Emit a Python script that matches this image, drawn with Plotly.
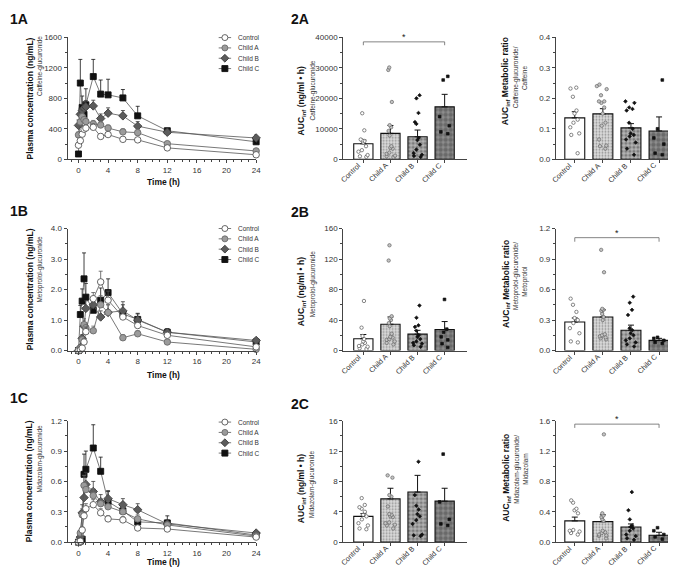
import plotly.graph_objects as go

W, H = 676, 567

groups = ["Control", "Child A", "Child B", "Child C"]
time_h = [0, 0.25, 0.5, 0.75, 1, 2, 3, 4, 6, 8, 12, 24]

# 1A caffeine-glucuronide plasma conc (ng/mL): mean / SEM, rows = groups
caf_mean = [
    [185, 245, 330, 395, 410, 420, 300, 325, 262, 255, 150, 60],
    [320, 490, 560, 520, 495, 465, 450, 410, 360, 350, 205, 110],
    [445, 590, 640, 670, 690, 700, 535, 605, 570, 435, 355, 280],
    [70, 1000, 680, 590, 715, 1085, 855, 845, 805, 570, 375, 230],
]
caf_sem = [
    [25, 30, 35, 40, 40, 45, 30, 35, 30, 30, 20, 10],
    [40, 50, 60, 50, 50, 45, 45, 40, 40, 40, 25, 15],
    [70, 80, 80, 80, 80, 75, 60, 70, 70, 60, 40, 40],
    [20, 310, 150, 120, 210, 225, 185, 205, 110, 125, 30, 40],
]
# 1B metoprolol-glucuronide
met_mean = [
    [0, 0.02, 0.08, 0.28, 0.62, 1.7, 2.25, 1.65, 1.1, 0.82, 0.5, 0.12],
    [0, 0.08, 0.35, 0.85, 0.75, 0.65, 1.5, 1.25, 0.42, 0.55, 0.28, 0.04],
    [0, 0.1, 0.4, 0.8, 1.38, 1.5, 1.1, 1.25, 1.3, 1.0, 0.6, 0.33],
    [0, 1.18, 1.62, 2.35, 1.75, 1.32, 1.65, 1.9, 1.2, 1.02, 0.6, 0.28],
]
met_sem = [
    [0, 0.01, 0.04, 0.1, 0.15, 0.2, 0.35, 0.3, 0.2, 0.12, 0.08, 0.03],
    [0, 0.03, 0.1, 0.2, 0.15, 0.15, 0.3, 0.25, 0.1, 0.1, 0.05, 0.01],
    [0, 0.04, 0.12, 0.2, 0.25, 0.25, 0.2, 0.25, 0.3, 0.2, 0.12, 0.06],
    [0, 0.3, 0.4, 0.85, 0.45, 0.35, 0.4, 0.45, 0.3, 0.2, 0.12, 0.05],
]
# 1C midazolam-glucuronide
mid_mean = [
    [0, 0.01, 0.12, 0.26, 0.33, 0.37, 0.29, 0.23, 0.22, 0.14, 0.13, 0.05],
    [0, 0.09, 0.27, 0.56, 0.52, 0.46, 0.38, 0.35, 0.3, 0.23, 0.17, 0.06],
    [0, 0.05, 0.29, 0.44, 0.57, 0.5, 0.4, 0.43, 0.37, 0.32, 0.18, 0.09],
    [0, 0.01, 0.03, 0.67, 0.72, 0.93, 0.70, 0.40, 0.31, 0.2, 0.19, 0.07],
]
mid_sem = [
    [0, 0.005, 0.03, 0.05, 0.05, 0.05, 0.04, 0.03, 0.03, 0.02, 0.02, 0.01],
    [0, 0.02, 0.06, 0.1, 0.08, 0.07, 0.05, 0.05, 0.04, 0.04, 0.03, 0.01],
    [0, 0.02, 0.08, 0.12, 0.12, 0.1, 0.07, 0.08, 0.06, 0.06, 0.04, 0.02],
    [0, 0.005, 0.01, 0.2, 0.18, 0.23, 0.14, 0.1, 0.08, 0.05, 0.07, 0.02],
]

# 2A-2C AUCinf of glucuronides: bar mean, SEM and individual values
caf_auc_mean = [5100, 8500, 7400, 17200]
caf_auc_sem = [1200, 2600, 2200, 4100]
caf_auc_pts = [
    [15100, 9500, 6500, 6200, 6000, 5500, 4300, 3000, 2500, 1400, 1000, 800],
    [30100, 29300, 18800, 11200, 10500, 9300, 7800, 4300, 3800, 3500, 2200, 1800, 1200, 1000, 700],
    [21000, 20000, 15200, 12200, 11600, 7000, 6300, 4800, 3200, 2000, 1500, 1100, 800],
    [27200, 26000, 14000, 11000, 9000, 8400],
]
met_auc_mean = [15.5, 34.5, 21.5, 27.5]
met_auc_sem = [5.5, 9.5, 5, 10.5]
met_auc_pts = [
    [65, 30, 19, 15, 12, 10, 8, 6, 5, 3, 2],
    [138, 118, 45, 42, 40, 36, 32, 22, 18, 17, 15, 14, 12, 10, 8],
    [59, 43, 33, 31, 26, 20, 18, 15, 12, 10, 9, 7, 5],
    [67, 28, 24, 18, 14, 9, 4],
]
mid_auc_mean = [3.4, 5.7, 6.6, 5.4]
mid_auc_sem = [0.35, 1.4, 2.2, 1.7]
mid_auc_pts = [
    [5.8, 4.9, 4.6, 4.4, 4.0, 3.6, 3.4, 3.0, 2.5, 2.2, 1.8, 1.7],
    [8.8, 8.5, 6.2, 6.0, 4.7, 3.7, 3.6, 3.4, 3.3, 2.6, 2.5, 2.3, 2.2, 1.8],
    [10.6, 6.2, 4.8, 4.3, 3.7, 3.4, 2.9, 2.4, 1.0, 0.9, 0.8],
    [11.6, 5.3, 3.0, 2.4, 2.2],
]

# 3A-3C AUCinf metabolic ratios
caf_ratio_mean = [0.136, 0.149, 0.103, 0.093]
caf_ratio_sem = [0.02, 0.017, 0.014, 0.046]
caf_ratio_pts = [
    [0.235, 0.232, 0.205, 0.16, 0.15, 0.13, 0.12, 0.105, 0.085, 0.08, 0.02],
    [0.245, 0.24, 0.23, 0.21, 0.19, 0.19, 0.185, 0.17, 0.15, 0.12, 0.11, 0.065, 0.045, 0.043, 0.035],
    [0.19, 0.185, 0.17, 0.165, 0.16, 0.12, 0.1, 0.085, 0.08, 0.075, 0.065, 0.055, 0.035, 0.015],
    [0.26, 0.1, 0.07, 0.05, 0.02, 0.015],
]
met_ratio_mean = [0.28, 0.33, 0.2, 0.1]
met_ratio_sem = [0.04, 0.07, 0.05, 0.02]
met_ratio_pts = [
    [0.51, 0.45, 0.38, 0.32, 0.3, 0.27, 0.22, 0.17, 0.09, 0.08],
    [0.99, 0.77, 0.41, 0.40, 0.39, 0.36, 0.33, 0.30, 0.16, 0.15, 0.14, 0.13, 0.12, 0.11],
    [0.53, 0.47, 0.40, 0.35, 0.22, 0.2, 0.17, 0.15, 0.12, 0.1, 0.08, 0.06, 0.04],
    [0.13, 0.12, 0.1, 0.08, 0.07],
]
mid_ratio_mean = [0.28, 0.27, 0.2, 0.09]
mid_ratio_sem = [0.05, 0.09, 0.04, 0.04]
mid_ratio_pts = [
    [0.55, 0.52, 0.44, 0.42, 0.38, 0.16, 0.15, 0.14, 0.12, 0.1],
    [1.42, 0.38, 0.35, 0.33, 0.3, 0.28, 0.15, 0.13, 0.12, 0.1, 0.09, 0.08, 0.05],
    [0.66, 0.42, 0.3, 0.22, 0.2, 0.18, 0.15, 0.1, 0.08, 0.05, 0.03],
    [0.19, 0.15, 0.1, 0.07, 0.04],
]

# significance brackets (Control vs Child C): bracket height, leg drop
sig_caf_auc = (38500, 1100)
sig_met_ratio = (1.11, 0.04)
sig_mid_ratio = (1.555, 0.05)

drugs = ["Caffeine", "Metoprolol", "Midazolam"]


def px(x):
    return x / W


def py(y):
    return 1 - y / H


def ax_name(k, a):
    return f"{a}axis" if k == 1 else f"{a}axis{k}"


def ax_ref(k, a):
    return a if k == 1 else f"{a}{k}"


FONT = "Liberation Sans, Arial, sans-serif"
AXC = "#444444"


def base_axis(**kw):
    d = dict(showline=True, linecolor=AXC, linewidth=1, ticks="outside",
             ticklen=3, tickwidth=1, tickcolor=AXC, showgrid=False,
             zeroline=False, tickfont=dict(size=8, color="#333", family=FONT),
             fixedrange=True)
    d.update(kw)
    return d


fig = go.Figure()
layout = {}
ann = []

row_top = [25.7, 220, 415.3]
row_bot = [149.7, 344, 538.7]
line_x = (60, 250)
t0_px = 71
auc_x = (337.7, 462)
ratio_x = (552, 675)

# line plot styles
sym = ["circle", "circle", "diamond", "square"]
fill = ["white", "#9b9b9b", "#5c5c5c", "#111111"]
edge = ["#555555", "#6a6a6a", "#3c3c3c", "#111111"]

# bar styles
bar_bg = ["white", "#dcdcdc", "#b4b4b4", "#8e8e8e"]
bar_fg = ["white", "#8c8c8c", "#222222", "#111111"]
bar_shape = ["", ".", ".", "."]
bar_psize = [4, 3, 4, 5]
bar_solid = [0.3, 0.3, 0.5, 0.6]
pt_fill = ["white", "#c4c4c4", "#111111", "#111111"]
pt_edge = ["#555555", "#666666", "#111111", "#111111"]
pt_sym = ["circle", "circle", "diamond", "square"]
pt_size = [3.4, 3.4, 2.8, 2.7]

line_sets = [(caf_mean, caf_sem, 1600, 400, "d"),
             (met_mean, met_sem, 4.0, 1.0, ".1f"),
             (mid_mean, mid_sem, 1.2, 0.3, ".1f")]
auc_sets = [(caf_auc_mean, caf_auc_sem, caf_auc_pts, 40000, 10000, "d"),
            (met_auc_mean, met_auc_sem, met_auc_pts, 160, 40, "d"),
            (mid_auc_mean, mid_auc_sem, mid_auc_pts, 16, 4, "d")]
ratio_sets = [(caf_ratio_mean, caf_ratio_sem, caf_ratio_pts, 0.4, 0.1, ".1f"),
              (met_ratio_mean, met_ratio_sem, met_ratio_pts, 1.2, 0.3, ".1f"),
              (mid_ratio_mean, mid_ratio_sem, mid_ratio_pts, 1.6, 0.4, ".1f")]
sigs = [(sig_caf_auc, None), (None, sig_met_ratio), (None, sig_mid_ratio)]

# text layout (pixel positions measured on the reference)
line_title_y = [(88, 55), (282, 261), (477, 454)]
auc_title_y = [(90, 80), (284, 276), (484, 480)]
ratio_title_y = [(70, 66, 67), (276, 268, 274), (473, 465, 465)]
label_y = [(7, 7), (202, 203), (392, 398)]
time_label_y = [173, 369, 559]
legend_top = [26, 220, 416.7]
legend_step = 10.5

bold_size = 8.5
sub_size = 6.5


def txt(x, y, text, size, angle=0, xanchor="center", color="#111"):
    ann.append(dict(x=px(x), y=py(y), xref="paper", yref="paper", text=text,
                    showarrow=False, textangle=angle, xanchor=xanchor,
                    yanchor="middle", font=dict(size=size, color=color, family=FONT)))


for r in range(3):
    ydom = [py(row_bot[r]), py(row_top[r])]
    drug = drugs[r]
    gluc = f"{drug}-glucuronide"

    # ---- time course panel
    k = 3 * r + 1
    means, sems, ymax, dt, fmt = line_sets[r]
    per_h = (line_x[1] - t0_px) / 24
    xr = [-(t0_px - line_x[0]) / per_h, 24]
    layout[ax_name(k, "x")] = base_axis(domain=[px(line_x[0]), px(line_x[1])], range=xr,
                                        anchor=ax_ref(k, "y"), tickvals=[0, 4, 8, 12, 16, 20, 24],
                                        minor=dict(ticks="outside", ticklen=2, dtick=1, tick0=0, tickcolor=AXC))
    layout[ax_name(k, "y")] = base_axis(domain=ydom, range=[0, ymax], anchor=ax_ref(k, "x"),
                                        dtick=dt, tickformat=fmt,
                                        minor=dict(ticks="outside", ticklen=2, dtick=dt / 2, tickcolor=AXC))
    for g in [3, 2, 1, 0]:
        fig.add_trace(go.Scatter(
            x=time_h, y=means[g], mode="lines+markers", name=groups[g],
            xaxis=ax_ref(k, "x"), yaxis=ax_ref(k, "y"), cliponaxis=False, showlegend=False,
            line=dict(color="#555555", width=0.8),
            marker=dict(symbol=sym[g], size=6.5 if g != 3 else 6, color=fill[g],
                        line=dict(color=edge[g], width=0.9)),
            error_y=dict(type="data", array=sems[g], arrayminus=[0] * len(time_h),
                         symmetric=False, color=edge[g], thickness=0.8, width=2),
        ))
    bt, st = line_title_y[r]
    txt(22, bt, "<b>Plasma concentration (ng/mL)</b>", bold_size, -90)
    txt(32, st, gluc, sub_size, -90, color="#333")
    txt(157, time_label_y[r], "<b>Time (h)</b>", bold_size)
    txt(0, label_y[r][0], f"<b>1{'ABC'[r]}</b>", 14, xanchor="left")

    # legend drawn on a small helper axis
    kl = 10 + r
    ltop = legend_top[r]
    layout[ax_name(kl, "x")] = dict(domain=[px(212), px(225)], range=[0, 1], visible=False,
                                    anchor=ax_ref(kl, "y"), fixedrange=True)
    layout[ax_name(kl, "y")] = dict(domain=[py(ltop + 3.5 * legend_step), py(ltop - 0.5 * legend_step)],
                                    range=[3.5, -0.5], visible=False, anchor=ax_ref(kl, "x"),
                                    fixedrange=True)
    for g in range(4):
        fig.add_trace(go.Scatter(
            x=[0, 1], y=[g, g], mode="lines", showlegend=False,
            xaxis=ax_ref(kl, "x"), yaxis=ax_ref(kl, "y"), cliponaxis=False, hoverinfo="skip",
            line=dict(color="#555555", width=0.8),
        ))
        fig.add_trace(go.Scatter(
            x=[0.5], y=[g], mode="markers", showlegend=False,
            xaxis=ax_ref(kl, "x"), yaxis=ax_ref(kl, "y"), cliponaxis=False, hoverinfo="skip",
            marker=dict(symbol=sym[g], size=6, color=fill[g],
                        line=dict(color=edge[g], width=0.9)),
        ))
        txt(230, ltop + g * legend_step, groups[g], sub_size, xanchor="left", color="#333")

    # ---- AUC and ratio bar panels
    for j, (xd, sets) in enumerate([(auc_x, auc_sets), (ratio_x, ratio_sets)]):
        k = 3 * r + 2 + j
        means, sems, pts, ymax, dt, fmt = sets[r]
        spacing = 27.3 if j == 0 else 28.3
        c0 = 358 if j == 0 else 571
        xr = [(xd[0] - c0) / spacing, (xd[1] - c0) / spacing]
        layout[ax_name(k, "x")] = base_axis(domain=[px(xd[0]), px(xd[1])], range=xr,
                                            anchor=ax_ref(k, "y"), tickvals=[0, 1, 2, 3],
                                            showticklabels=False)
        layout[ax_name(k, "y")] = base_axis(domain=ydom, range=[0, ymax], anchor=ax_ref(k, "x"),
                                            dtick=dt, tickformat=fmt,
                                            minor=dict(ticks="outside", ticklen=2, dtick=dt / 2,
                                                       tickcolor=AXC))
        fig.add_trace(go.Bar(
            x=[0, 1, 2, 3], y=means, width=0.71, showlegend=False,
            xaxis=ax_ref(k, "x"), yaxis=ax_ref(k, "y"),
            marker=dict(color=bar_bg, line=dict(color="#111", width=1.1),
                        pattern=dict(shape=bar_shape, fgcolor=bar_fg, bgcolor=bar_bg,
                                     size=bar_psize, solidity=bar_solid)),
            error_y=dict(type="data", array=sems, arrayminus=[0, 0, 0, 0], symmetric=False,
                         color="#111", thickness=1, width=3),
        ))
        for g in range(4):
            fig.add_trace(go.Box(
                x=[g] * len(pts[g]), y=pts[g], boxpoints="all", jitter=0.8, pointpos=0,
                width=0.55, fillcolor="rgba(0,0,0,0)", line=dict(width=0, color="rgba(0,0,0,0)"),
                showlegend=False, xaxis=ax_ref(k, "x"), yaxis=ax_ref(k, "y"),
                marker=dict(symbol=pt_sym[g], size=pt_size[g], color=pt_fill[g],
                            line=dict(color=pt_edge[g], width=0.7)),
            ))
            # rotated category label ending at the tick
            ann.append(dict(x=g, y=py(row_bot[r]), xref=ax_ref(k, "x"), yref="paper",
                            text=groups[g], showarrow=False, textangle=-45,
                            xanchor="right", yanchor="top", xshift=2, yshift=1,
                            font=dict(size=7.3, color="#333", family=FONT)))
        sig = sigs[r][j]
        if sig is not None:
            top, drop = sig
            fig.add_trace(go.Scatter(
                x=[0, 0, 3, 3], y=[top - drop, top, top, top - drop], mode="lines",
                showlegend=False, hoverinfo="skip", cliponaxis=False,
                xaxis=ax_ref(k, "x"), yaxis=ax_ref(k, "y"),
                line=dict(color="#666", width=0.8),
            ))
            ann.append(dict(x=1.5, y=top, xref=ax_ref(k, "x"), yref=ax_ref(k, "y"),
                            text="*", showarrow=False, yanchor="bottom", yshift=-2,
                            font=dict(size=9, color="#222", family=FONT)))

    # AUC titles
    bt, st = auc_title_y[r]
    txt(296, bt, "<b>AUC<sub>inf</sub> (ng/ml • h)</b>", bold_size, -90)
    txt(307, st, gluc, sub_size, -90, color="#333")
    txt(283, label_y[r][1], f"<b>2{'ABC'[r]}</b>", 14, xanchor="left")
    # ratio titles
    bt, s1, s2 = ratio_title_y[r]
    txt(502, bt, "<b>AUC<sub>inf</sub> Metabolic ratio</b>", bold_size, -90)
    txt(512, s1, f"{gluc}/", sub_size, -90, color="#333")
    txt(521, s2, drug, sub_size, -90, color="#333")

fig.update_layout(
    width=W, height=H,
    margin=dict(l=0, r=0, t=0, b=0),
    paper_bgcolor="white", plot_bgcolor="white",
    font=dict(family=FONT, color="#222"),
    showlegend=False,
    boxmode="overlay",
    annotations=ann,
    **layout,
)

fig.write_html("out.html")
